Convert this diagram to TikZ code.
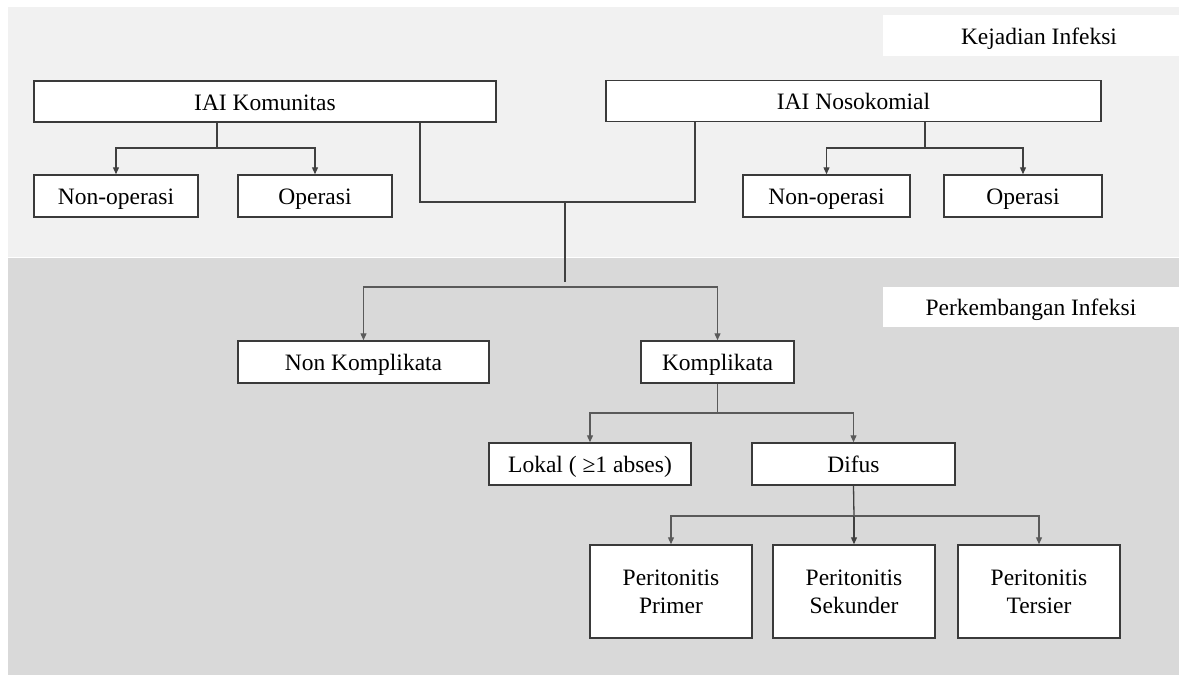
\documentclass[tikz,border=0pt]{standalone}
\usepackage{fontspec}
\setmainfont{Liberation Serif}
\usetikzlibrary{arrows.meta}
\definecolor{bandtop}{HTML}{F1F1F1}
\definecolor{bandbot}{HTML}{D9D9D9}
\definecolor{edge}{HTML}{3A3A3A}
\definecolor{wire}{HTML}{404040}
\definecolor{wirelo}{HTML}{5A5A5A}
\tikzset{
  textfont/.style={font=\fontsize{11.75pt}{14pt}\selectfont},
  box/.style={draw=edge, line width=0.75pt, fill=white, inner sep=0pt,
    align=center, textfont},
  onebox/.style={box, text height=8.5pt, text depth=0pt},
  tallbox/.style={box},
  tag/.style={fill=white, inner sep=0pt, align=center, textfont,
    text height=8.5pt, text depth=0pt},
  wireline/.style={draw=wire, line width=0.65pt},
  wirearrow/.style={wireline, -{Triangle[width=3pt,length=3.5pt]}},
  lowline/.style={draw=wirelo, line width=0.65pt},
  lowarrow/.style={lowline, -{Triangle[width=3pt,length=3.5pt]}},
}
\begin{document}
\begin{tikzpicture}[x=0.5pt, y=-0.5pt]
  \useasboundingbox (0,0) rectangle (1179,675);
  % two background bands
  \fill[bandtop] (8,7) rectangle (1179,257);
  \fill[bandbot] (8,258) rectangle (1179,675);

  % band labels
  \node[tag, minimum width=148pt, minimum height=20.5pt] (kej) at (1031,35.5) {\hspace*{8pt}Kejadian Infeksi};
  \node[tag, minimum width=148pt, minimum height=20pt] (perk) at (1031,307) {Perkembangan Infeksi};

  % upper level
  \node[onebox, minimum width=231pt, minimum height=20.5pt] (kom) at (265,101.5) {IAI Komunitas};
  \node[onebox, minimum width=247.5pt, minimum height=20.5pt] (nos) at (853.5,101) {IAI Nosokomial};
  \node[onebox, minimum width=82pt, minimum height=21pt] (nonopL) at (116,196) {Non-operasi};
  \node[onebox, minimum width=77pt, minimum height=21pt] (opL) at (315,196) {Operasi};
  \node[onebox, minimum width=83.5pt, minimum height=21pt] (nonopR) at (826.5,196) {Non-operasi};
  \node[onebox, minimum width=79pt, minimum height=21pt] (opR) at (1023,196) {Operasi};

  % lower level
  \node[onebox, minimum width=125.5pt, minimum height=21pt] (nonkom) at (363.5,362) {Non Komplikata};
  \node[onebox, minimum width=76.5pt, minimum height=21pt] (komp) at (717.5,362) {Komplikata};
  \node[onebox, minimum width=101pt, minimum height=21pt] (lokal) at (590,464) {Lokal ( ≥1 abses)};
  \node[onebox, minimum width=101.5pt, minimum height=21pt] (difus) at (853.5,464) {Difus};
  \node[tallbox, minimum width=81pt, minimum height=46.5pt] (pprim) at (671,591.5) {Peritonitis\\Primer};
  \node[tallbox, minimum width=81pt, minimum height=46.5pt] (psek) at (854,591.5) {Peritonitis\\Sekunder};
  \node[tallbox, minimum width=81pt, minimum height=46.5pt] (pter) at (1039,591.5) {Peritonitis\\Tersier};

  % junction points
  \coordinate (f1) at (217,148);
  \coordinate (f2) at (925,148);
  \coordinate (ka) at (420,202);
  \coordinate (na) at (695,202);
  \coordinate (j) at (565,202);
  \coordinate (jd) at (565,282);
  \coordinate (f3) at (565,287);
  \coordinate (f4) at (717.5,413);
  \coordinate (f5) at (854,516);

  % community branch
  \draw[wireline] (kom.south -| f1) -- (f1);
  \draw[wirearrow] (f1) -| (nonopL.north);
  \draw[wirearrow] (f1) -| (opL.north);

  % nosocomial branch
  \draw[wireline] (nos.south -| f2) -- (f2);
  \draw[wirearrow] (f2) -| (nonopR.north);
  \draw[wirearrow] (f2) -| (opR.north);

  % both sources joined
  \draw[wireline] (kom.south -| ka) -- (ka) -- (na) -- (nos.south -| na);
  \draw[wireline] (j) -- (jd);

  % infection course
  \draw[lowarrow] (f3) -| (nonkom.north);
  \draw[lowarrow] (f3) -| (komp.north);
  \draw[lowline] (komp.south) -- (f4);
  \draw[lowarrow] (f4) -| (lokal.north);
  \draw[lowarrow] (f4) -| (difus.north);
  \draw[wireline] (difus.south) -- (f5);
  \draw[lowarrow] (f5) -| (pprim.north);
  \draw[wirearrow] (f5) -- (psek.north);
  \draw[lowarrow] (f5) -| (pter.north);
\end{tikzpicture}
\end{document}
